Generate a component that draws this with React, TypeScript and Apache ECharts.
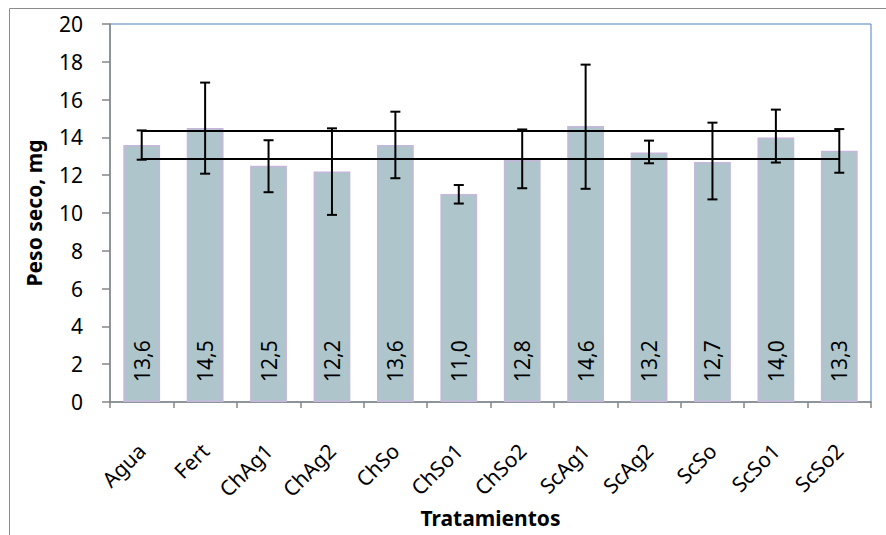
import React, { useEffect, useRef } from "react";
import * as echarts from "echarts";

const categories = ["Agua", "Fert", "ChAg1", "ChAg2", "ChSo", "ChSo1", "ChSo2", "ScAg1", "ScAg2", "ScSo", "ScSo1", "ScSo2"];
const values = [13.6, 14.5, 12.5, 12.2, 13.6, 11.0, 12.8, 14.6, 13.2, 12.7, 14.0, 13.3];
const errLow = [12.82, 12.08, 11.1, 9.9, 11.84, 10.5, 11.31, 11.28, 12.63, 10.72, 12.67, 12.13];
const errHigh = [14.37, 16.9, 13.85, 14.48, 15.36, 11.48, 14.42, 17.85, 13.83, 14.78, 15.47, 14.44];
const refUpper = 14.35;
const refLower = 12.85;
const yTicks = { min: 0, max: 20, interval: 2 };

const FONT = "Noto Sans";

export default function App() {
  const ref = useRef<HTMLDivElement>(null);
  useEffect(() => {
    document.body.style.margin = "0";
    const chart = echarts.init(ref.current!, null, { renderer: "svg" });
    const errData = categories.map((c, i) => [i, errLow[i], errHigh[i]]);
    chart.setOption({
      animation: false,
      backgroundColor: "#fff",
      textStyle: { fontFamily: FONT },
      graphic: [
        {
          type: "rect",
          shape: { x: 9.5, y: 8.5, width: 1000, height: 1000 },
          style: { fill: "none", stroke: "#8c8c8c", lineWidth: 1 },
          silent: true,
        },
      ],
      grid: {
        left: 110,
        right: 15,
        top: 24,
        bottom: 133,
        show: true,
        borderColor: "#4F81BD",
        borderWidth: 1,
        backgroundColor: "transparent",
      },
      xAxis: {
        type: "category",
        data: categories,
        name: "Tratamientos",
        nameLocation: "middle",
        nameGap: 104,
        nameTextStyle: { fontFamily: FONT, fontWeight: "bold", fontSize: 21, color: "#000" },
        axisLine: { show: true, lineStyle: { color: "#868686", width: 1.5 } },
        axisTick: { show: true, alignWithLabel: false, length: 6, lineStyle: { color: "#868686", width: 1.5 } },
        axisLabel: { rotate: 45, fontSize: 21, color: "#000", margin: 45, fontFamily: FONT, interval: 0 },
      },
      yAxis: {
        type: "value",
        min: yTicks.min,
        max: yTicks.max,
        interval: yTicks.interval,
        name: "Peso seco, mg",
        nameLocation: "middle",
        nameGap: 66,
        nameRotate: 90,
        nameTextStyle: { fontFamily: FONT, fontWeight: "bold", fontSize: 21, color: "#000" },
        axisLine: { show: true, lineStyle: { color: "#868686", width: 1.5 } },
        axisTick: { show: true, inside: false, length: 8, lineStyle: { color: "#868686", width: 1.5 } },
        axisLabel: { fontSize: 21, color: "#000", margin: 27, fontFamily: FONT },
        splitLine: { show: false },
      },
      series: [
        {
          type: "bar",
          data: values,
          barWidth: "58%",
          itemStyle: { color: "#AEC6CB", borderColor: "#C6B6DA", borderWidth: 1.5 },
          label: {
            show: true,
            position: "insideBottom",
            rotate: 90,
            align: "left",
            verticalAlign: "middle",
            distance: 20,
            fontSize: 21,
            color: "#000",
            fontFamily: FONT,
            formatter: (p: any) => Number(p.value).toFixed(1).replace(".", ","),
          },
          markLine: {
            silent: true,
            symbol: "none",
            label: { show: false },
            lineStyle: { color: "#000", width: 2, type: "solid" },
            data: [
              [
                { coord: [categories[0], refUpper] },
                { coord: [categories[categories.length - 1], refUpper] },
              ],
              [
                { coord: [categories[0], refLower] },
                { coord: [categories[categories.length - 1], refLower] },
              ],
            ],
          },
          z: 2,
        },
        {
          type: "custom",
          data: errData,
          z: 5,
          renderItem: (params: any, api: any) => {
            const i = api.value(0);
            const lo = api.coord([i, api.value(1)]);
            const hi = api.coord([i, api.value(2)]);
            const x = lo[0];
            const hw = 5;
            const style = { stroke: "#000", lineWidth: 2 };
            return {
              type: "group",
              children: [
                { type: "line", shape: { x1: x, y1: hi[1], x2: x, y2: lo[1] }, style },
                { type: "line", shape: { x1: x - hw, y1: hi[1], x2: x + hw, y2: hi[1] }, style },
                { type: "line", shape: { x1: x - hw, y1: lo[1], x2: x + hw, y2: lo[1] }, style },
              ],
            };
          },
        },
      ],
    });
    return () => chart.dispose();
  }, []);
  return <div ref={ref} style={{ width: 886, height: 535 }} />;
}
